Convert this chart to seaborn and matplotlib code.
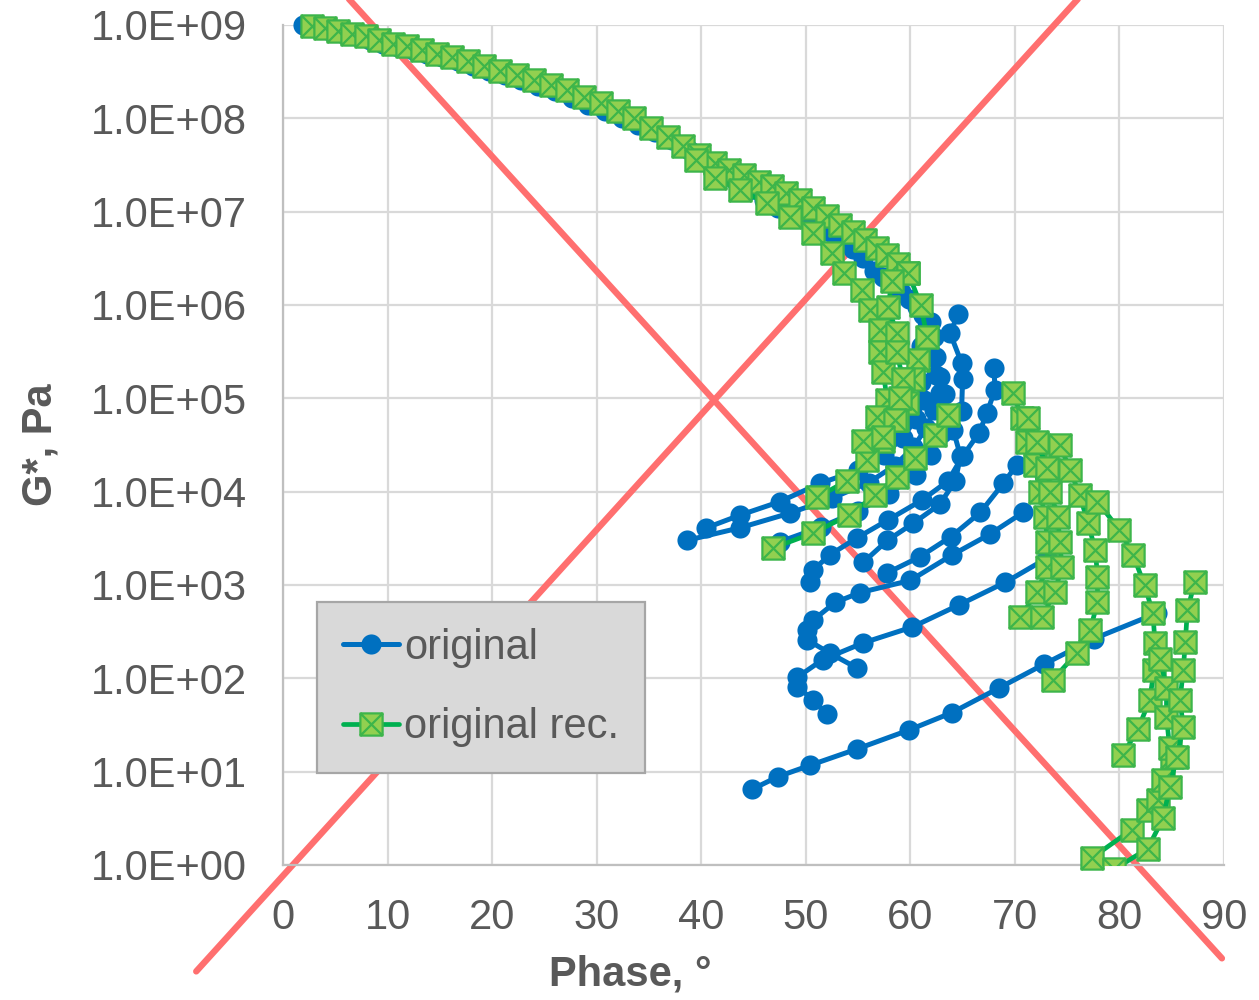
import numpy as np
import pandas as pd
import matplotlib
matplotlib.use("Agg")
import matplotlib.pyplot as plt
from matplotlib.path import Path
from matplotlib.lines import Line2D
from matplotlib.ticker import FixedLocator, FuncFormatter, NullLocator
import seaborn as sns

# ---------------- data: phase angle (deg) / |G*| (Pa) per isotherm ----------------
# "original"
orig_master_phase = [1.9, 3.2, 4.5, 5.8, 7.0, 8.3, 9.6, 11.0, 12.4, 13.8, 15.2, 16.7, 18.2, 19.7,
                     21.2, 22.8, 24.4, 26.0, 27.6, 29.2, 30.8, 32.4, 34.0, 35.6, 37.2, 38.8, 40.3,
                     41.8, 43.2, 44.6, 46.0, 47.3, 48.6, 49.9, 51.1, 52.3, 53.4, 54.5, 55.5, 56.5,
                     57.4, 58.3, 59.1, 59.9, 60.6, 61.2, 61.6]
orig_master_g = [1.0e9, 9.3e8, 8.7e8, 8.1e8, 7.6e8, 6.9e8, 6.3e8, 5.8e8, 5.4e8, 4.9e8, 4.5e8, 4.1e8,
                 3.6e8, 3.2e8, 2.9e8, 2.6e8, 2.2e8, 1.95e8, 1.65e8, 1.4e8, 1.2e8, 1.02e8, 8.5e7,
                 7.1e7, 5.8e7, 4.6e7, 3.6e7, 2.8e7, 2.2e7, 1.7e7, 1.35e7, 1.1e7, 9.1e6, 8.3e6,
                 7.4e6, 6.0e6, 5.0e6, 4.0e6, 3.2e6, 2.3e6, 2.0e6, 1.66e6, 1.38e6, 1.17e6, 9.5e5,
                 7.9e5, 5.8e5]

orig_t1_phase = [44.9, 47.3, 50.4, 54.9, 59.9, 64.0, 68.5, 72.8, 77.6, 83.6]
orig_t1_g = [6.5, 8.8, 11.7, 17.5, 28, 43, 79, 142, 267, 500]
orig_t2_phase = [52.0, 50.7, 49.2, 49.2, 51.6, 55.5, 60.2, 64.7, 69.1, 73.1]
orig_t2_g = [41, 59, 81, 103, 158, 240, 355, 615, 1070, 1950]
orig_t3_phase = [54.9, 52.3, 50.1, 50.1, 50.7, 52.8, 55.2, 60.0, 64.0, 67.6, 70.8]
orig_t3_g = [129, 186, 260, 330, 420, 650, 830, 1120, 2100, 3500, 6000]
orig_t4_phase = [50.4, 50.7, 52.3, 54.9, 57.9, 61.1, 63.6, 65.0, 66.6, 67.3, 68.1, 68.0]
orig_t4_g = [1070, 1450, 2100, 3200, 5000, 8100, 13000, 24000, 43000, 69000, 1.23e5, 2.1e5]
orig_t5_phase = [55.5, 57.8, 60.3, 62.8, 64.3, 64.8, 64.1, 64.9, 65.0, 64.9, 63.8, 64.6]
orig_t5_g = [1750, 3000, 4600, 7300, 13000, 24000, 46000, 74000, 1.6e5, 2.4e5, 5.0e5, 8.1e5]
orig_t6_phase = [57.8, 60.9, 63.9, 66.7, 68.9, 70.2]
orig_t6_g = [1350, 2000, 3300, 6000, 12300, 19500]
orig_t7_phase = [38.6, 43.7, 48.5, 52.5, 56.0, 58.5, 60.3, 61.5, 62.3, 62.8, 62.5, 61.8, 61.6]
orig_t7_g = [3000, 4100, 5900, 8500, 12500, 19000, 30000, 48000, 75000, 1.15e5, 1.8e5, 2.8e5, 4.2e5]
orig_t8_phase = [40.5, 43.7, 47.5, 51.4, 55.0, 57.5, 59.3, 60.5, 61.3, 61.0, 60.6, 61.0]
orig_t8_g = [4100, 5600, 7800, 12300, 17000, 25000, 38000, 60000, 95000, 1.5e5, 2.3e5, 3.6e5]
orig_t9_phase = [47.5, 51.5, 55.0, 58.0, 60.5, 62.0, 63.0, 63.5, 63.3, 62.8, 62.5, 62.3, 62.0]
orig_t9_g = [2900, 4200, 6200, 9500, 15000, 25000, 42000, 70000, 1.1e5, 1.7e5, 2.8e5, 4.5e5, 6.5e5]

# "original rec."
rec_master_phase = [2.8, 4.0, 5.3, 6.6, 7.9, 9.2, 10.5, 11.9, 13.3, 14.7, 16.2, 17.7, 19.2, 20.8,
                    22.4, 24.0, 25.6, 27.2, 28.8, 30.4, 32.0, 33.6, 35.2, 36.8, 38.3, 39.8, 41.3,
                    42.7, 44.1, 45.5, 46.8, 48.1, 49.4, 50.7, 52.0, 53.3, 54.5, 55.7, 56.8, 57.8,
                    58.8, 59.8]
rec_master_g = [9.8e8, 9.3e8, 8.7e8, 8.1e8, 7.6e8, 6.9e8, 6.3e8, 5.9e8, 5.4e8, 4.9e8, 4.5e8, 4.1e8,
                3.6e8, 3.2e8, 2.9e8, 2.6e8, 2.3e8, 2.0e8, 1.7e8, 1.45e8, 1.2e8, 1.0e8, 7.9e7,
                6.3e7, 5.0e7, 4.0e7, 3.3e7, 2.8e7, 2.45e7, 2.1e7, 1.9e7, 1.6e7, 1.35e7, 1.1e7,
                8.9e6, 7.2e6, 6.0e6, 5.0e6, 4.1e6, 3.4e6, 2.75e6, 2.2e6]
rec_t1_phase = [59.8, 61.0, 61.6, 60.7, 60.3, 59.7, 58.7, 57.4, 55.9, 53.9, 51.1]
rec_t1_g = [2.2e6, 1.0e6, 4.5e5, 2.6e5, 1.6e5, 8.9e4, 5.9e4, 3.5e4, 2.2e4, 1.3e4, 8.7e3]
rec_t2_phase = [39.5, 41.3, 43.7, 46.3, 48.5, 50.7, 52.5, 53.7, 55.4, 56.1, 57.1, 57.1, 57.4,
                57.8, 56.8, 55.5]
rec_t2_g = [3.6e7, 2.3e7, 1.7e7, 1.23e7, 8.7e6, 5.9e6, 3.6e6, 2.2e6, 1.45e6, 8.9e5, 5.4e5,
            3.1e5, 1.9e5, 9.5e4, 6.3e4, 3.5e4]
rec_t3_phase = [58.2, 57.9, 58.7, 58.7, 59.3, 59.0, 58.5, 57.4]
rec_t3_g = [1.8e6, 9.5e5, 5.0e5, 3.1e5, 1.6e5, 1.0e5, 5.8e4, 3.9e4]
rec_t4_phase = [46.9, 50.7, 54.1, 56.6, 58.7, 60.4, 62.4, 63.6]
rec_t4_g = [2500, 3600, 5600, 9100, 14500, 23000, 40000, 66000]
rec_t5_phase = [70.5, 72.1, 73.1, 73.1, 72.9, 72.4, 71.9, 71.2, 70.7, 69.8]
rec_t5_g = [450, 840, 1550, 2900, 5400, 9900, 19500, 34000, 61000, 1.15e5]
rec_t6_phase = [72.6, 73.8, 74.5, 74.3, 74.1, 73.4, 73.1, 72.1, 71.3]
rec_t6_g = [450, 840, 1550, 2900, 5400, 9900, 18000, 34000, 61000]
rec_t7_phase = [73.6, 75.9, 77.2, 77.9, 77.9, 77.7, 77.0, 76.2, 75.3, 74.3]
rec_t7_g = [96, 185, 330, 650, 1230, 2350, 4600, 9100, 17000, 31500]
rec_t8_phase = [80.3, 81.8, 82.9, 83.3, 83.4, 83.2, 82.4, 81.3, 80.0, 77.9]
rec_t8_g = [15, 29, 59, 122, 240, 500, 1000, 2100, 3900, 7800]
rec_t9_phase = [79.5, 82.7, 84.2, 84.8, 85.5, 86.1, 85.8, 86.1, 86.3, 86.5, 87.2]
rec_t9_g = [0.9, 1.5, 3.2, 6.9, 14.5, 30, 59, 122, 245, 540, 1070]
rec_t10_phase = [77.4, 81.2, 82.7, 83.7, 84.2, 85.0, 84.8, 84.5, 84.5, 83.9]
rec_t10_g = [1.2, 2.4, 3.9, 5.0, 8.1, 14.5, 18, 39, 79, 160]

# crossing reference lines (phase, |G*|) end points
ref_rise_phase = [-8.3, 80.0]
ref_rise_g = [10 ** -1.14, 10 ** 9.77]
ref_fall_phase = [-5.0, 89.8]
ref_fall_g = [10 ** 10.67, 10 ** -1.0]

series_names = ["original", "original rec."]
x_ticks = list(range(0, 91, 10))
y_ticks = [1e0, 1e1, 1e2, 1e3, 1e4, 1e5, 1e6, 1e7, 1e8, 1e9]

# ---------------- tables ----------------
def to_frame(segments):
    rows = []
    for seg_id, (ph, g) in enumerate(segments):
        for k, (p, v) in enumerate(zip(ph, g)):
            rows.append({"phase": p, "gstar": v, "seg": seg_id, "k": k})
    return pd.DataFrame(rows)

orig_df = to_frame([
    (orig_master_phase, orig_master_g), (orig_t1_phase, orig_t1_g), (orig_t2_phase, orig_t2_g),
    (orig_t3_phase, orig_t3_g), (orig_t4_phase, orig_t4_g), (orig_t5_phase, orig_t5_g),
    (orig_t6_phase, orig_t6_g), (orig_t7_phase, orig_t7_g), (orig_t8_phase, orig_t8_g),
    (orig_t9_phase, orig_t9_g),
])
rec_df = to_frame([
    (rec_master_phase, rec_master_g), (rec_t1_phase, rec_t1_g), (rec_t2_phase, rec_t2_g),
    (rec_t3_phase, rec_t3_g), (rec_t4_phase, rec_t4_g), (rec_t5_phase, rec_t5_g),
    (rec_t6_phase, rec_t6_g), (rec_t7_phase, rec_t7_g), (rec_t8_phase, rec_t8_g),
    (rec_t10_phase, rec_t10_g),
])
rec_edge_df = to_frame([(rec_t9_phase, rec_t9_g)])
ref_df = pd.DataFrame({
    "phase": ref_rise_phase + ref_fall_phase,
    "gstar": ref_rise_g + ref_fall_g,
    "seg": [0, 0, 1, 1],
})

# ---------------- style ----------------
sns.set_style("white")
plt.rcParams["font.family"] = ["Liberation Sans", "DejaVu Sans"]

BLUE = "#0070C0"
GREEN_LINE = "#00B050"
GREEN_FACE = "#92D050"
GREEN_EDGE = "#3DB54A"
RED = "#FF6F6F"
TEXT = "#595959"
GRID = "#D9D9D9"

# square with a cross inside
box_x = Path(
    [(-1, -1), (1, -1), (1, 1), (-1, 1), (-1, -1), (-1, -1), (1, 1), (-1, 1), (1, -1)],
    [Path.MOVETO, Path.LINETO, Path.LINETO, Path.LINETO, Path.CLOSEPOLY,
     Path.MOVETO, Path.LINETO, Path.MOVETO, Path.LINETO],
)

fig = plt.figure(figsize=(12.59, 10.0), dpi=100)
ax = fig.add_axes([283 / 1259, 1 - 865 / 1000, (1224 - 283) / 1259, (865 - 25) / 1000])

ax.set_yscale("log")
ax.set_xlim(0, 90)
ax.set_ylim(1, 1e9)

blue_kw = dict(color=BLUE, lw=3.6, marker="o", markersize=14.5, markerfacecolor=BLUE,
               markeredgecolor=BLUE, markeredgewidth=0)
green_kw = dict(color=GREEN_LINE, lw=3.4, marker=box_x, markersize=16,
                markerfacecolor=GREEN_FACE, markeredgecolor=GREEN_EDGE, markeredgewidth=1.6)

sns.lineplot(data=ref_df, x="phase", y="gstar", units="seg", estimator=None, sort=False,
             color=RED, lw=4.6, ax=ax, legend=False, zorder=1.5, clip_on=False)
sns.lineplot(data=orig_df, x="phase", y="gstar", units="seg", estimator=None, sort=False,
             ax=ax, legend=False, zorder=2, clip_on=False, **blue_kw)
sns.lineplot(data=rec_df, x="phase", y="gstar", units="seg", estimator=None, sort=False,
             ax=ax, legend=False, zorder=3, clip_on=False, **green_kw)
sns.lineplot(data=rec_edge_df, x="phase", y="gstar", units="seg", estimator=None, sort=False,
             ax=ax, legend=False, zorder=3, clip_on=True, **green_kw)

# axes, grid and ticks
ax.grid(True, color=GRID, lw=1.6)
ax.set_axisbelow(True)
for side in ("top", "right"):
    ax.spines[side].set_visible(False)
for side in ("left", "bottom"):
    ax.spines[side].set_color("#BFBFBF")
    ax.spines[side].set_linewidth(1.6)

ax.xaxis.set_major_locator(FixedLocator(x_ticks))
ax.yaxis.set_major_locator(FixedLocator(y_ticks))
ax.yaxis.set_minor_locator(NullLocator())
ax.yaxis.set_major_formatter(FuncFormatter(lambda v, _: f"{v:.1E}"))
ax.tick_params(axis="both", length=0, labelsize=30, labelcolor=TEXT)
ax.tick_params(axis="x", pad=24)
ax.tick_params(axis="y", pad=26)

ax.set_xlabel("Phase, °", fontsize=30, fontweight="bold", color=TEXT)
ax.set_ylabel("G*, Pa", fontsize=30, fontweight="bold", color=TEXT)
ax.xaxis.set_label_coords((630 - 283) / 941, (865 - 975) / 840)
ax.yaxis.set_label_coords((40 - 283) / 941, 0.5)
ax.xaxis.label.set_verticalalignment("center")
ax.yaxis.label.set_verticalalignment("center")

handles = [Line2D([], [], **blue_kw), Line2D([], [], **green_kw)]
leg = ax.legend(handles, series_names, loc="lower left",
                bbox_to_anchor=((317 - 283) / 941, (865 - 773) / 840),
                borderaxespad=0, fontsize=30, frameon=True, fancybox=False,
                facecolor="#D9D9D9", edgecolor="#A6A6A6", framealpha=1,
                handlelength=1.35, handletextpad=0.12, labelspacing=0.95, borderpad=0.62)
leg.get_frame().set_linewidth(1.6)
for t in leg.get_texts():
    t.set_color(TEXT)

fig.savefig("out.png", dpi=100, facecolor="white")
